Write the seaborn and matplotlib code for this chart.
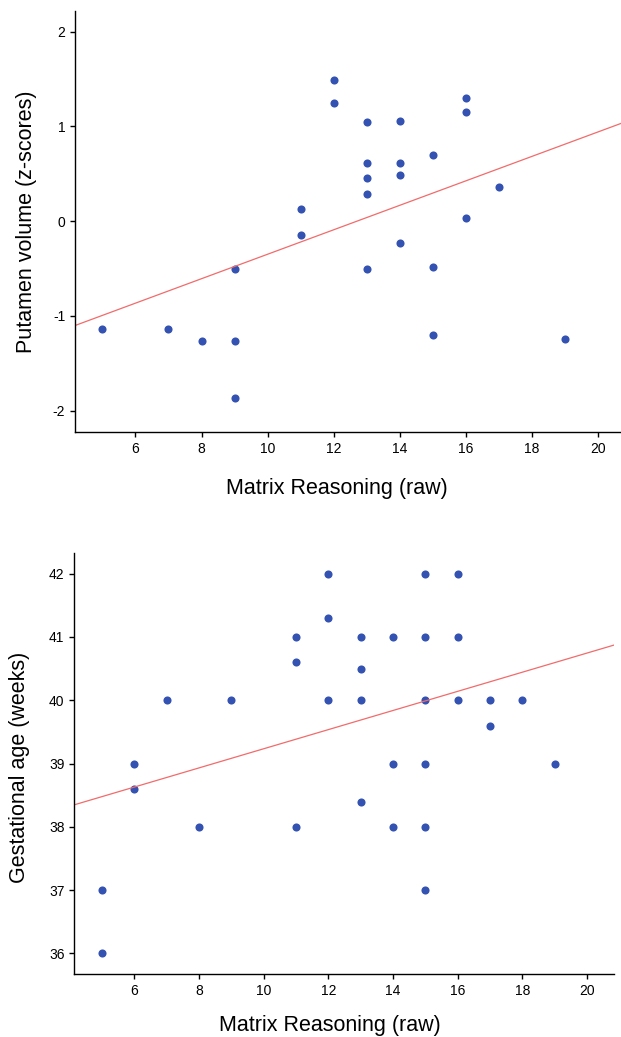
import seaborn as sns
import matplotlib.pyplot as plt
import numpy as np

# data
matrix_top = [5, 7, 8, 9, 9, 9, 11, 11, 12, 12, 13, 13, 13, 13, 13,
              14, 14, 14, 14, 15, 15, 15, 16, 16, 16, 17, 19]
putamen_z = [-1.14, -1.14, -1.27, -1.27, -0.51, -1.865, 0.13, -0.15, 1.49, 1.25,
             1.04, 0.615, 0.45, 0.29, -0.51, 1.06, 0.615, 0.49, -0.235,
             0.70, -0.48, -1.20, 1.30, 1.15, 0.03, 0.355, -1.24]

matrix_bot = [5, 5, 6, 6, 7, 8, 9, 11, 11, 11, 12, 12, 12, 13, 13, 13, 13,
              14, 14, 14, 15, 15, 15, 15, 15, 15, 16, 16, 16, 17, 17, 18, 19]
gest_age = [37, 36, 39, 38.6, 40, 38, 40, 41, 40.6, 38, 42, 41.3, 40, 41, 40.5, 40, 38.4,
            41, 39, 38, 42, 41, 40, 39, 38, 37, 42, 41, 40, 40, 39.6, 40, 39]

dot_col = '#3352b1'
line_col = '#f26b6b'

sns.set_style("ticks")
plt.rcParams['font.family'] = ['Liberation Sans', 'DejaVu Sans']
plt.rcParams['axes.unicode_minus'] = False
plt.rcParams['xtick.major.size'] = 3.6
plt.rcParams['ytick.major.size'] = 3.6
plt.rcParams['axes.linewidth'] = 1.0
plt.rcParams['axes.edgecolor'] = 'black'
plt.rcParams['axes.labelcolor'] = 'black'
plt.rcParams['text.color'] = 'black'

fig = plt.figure(figsize=(6.21, 10.37), dpi=100)
ax1 = fig.add_axes([0.1208, 0.5831, 0.8792, 0.4066])
ax2 = fig.add_axes([0.1196, 0.0610, 0.8696, 0.4060])

# top panel
ax1.set_xlim(4.17, 20.70)
ax1.set_ylim(-2.23, 2.22)
sns.regplot(x=matrix_top, y=putamen_z, ax=ax1, ci=None, truncate=False,
            scatter_kws=dict(s=34, color=dot_col, linewidths=0, alpha=1),
            line_kws=dict(color=line_col, lw=0.9))
ax1.set_xlim(4.17, 20.70)
ax1.set_ylim(-2.23, 2.22)
ax1.set_xticks(np.arange(6, 21, 2))
ax1.set_yticks([-2, -1, 0, 1, 2])
ax1.set_xlabel('Matrix Reasoning (raw)', fontsize=15.5)
ax1.set_ylabel('Putamen volume (z-scores)', fontsize=15.5)
ax1.xaxis.set_label_coords(0.479, -0.108)
ax1.yaxis.set_label_coords(-0.070, 0.5)

# bottom panel
ax2.set_xlim(4.14, 20.85)
ax2.set_ylim(35.68, 42.33)
sns.regplot(x=matrix_bot, y=gest_age, ax=ax2, ci=None, truncate=False,
            scatter_kws=dict(s=34, color=dot_col, linewidths=0, alpha=1),
            line_kws=dict(color=line_col, lw=0.9))
ax2.set_xlim(4.14, 20.85)
ax2.set_ylim(35.68, 42.33)
ax2.set_xticks(np.arange(6, 21, 2))
ax2.set_yticks(np.arange(36, 43, 1))
ax2.set_xlabel('Matrix Reasoning (raw)', fontsize=15.5)
ax2.set_ylabel('Gestational age (weeks)', fontsize=15.5)
ax2.xaxis.set_label_coords(0.473, -0.098)
ax2.yaxis.set_label_coords(-0.082, 0.49)

for ax in (ax1, ax2):
    sns.despine(ax=ax)
    ax.tick_params(labelsize=10, colors='black', width=1)

plt.savefig('out.png', dpi=100)
